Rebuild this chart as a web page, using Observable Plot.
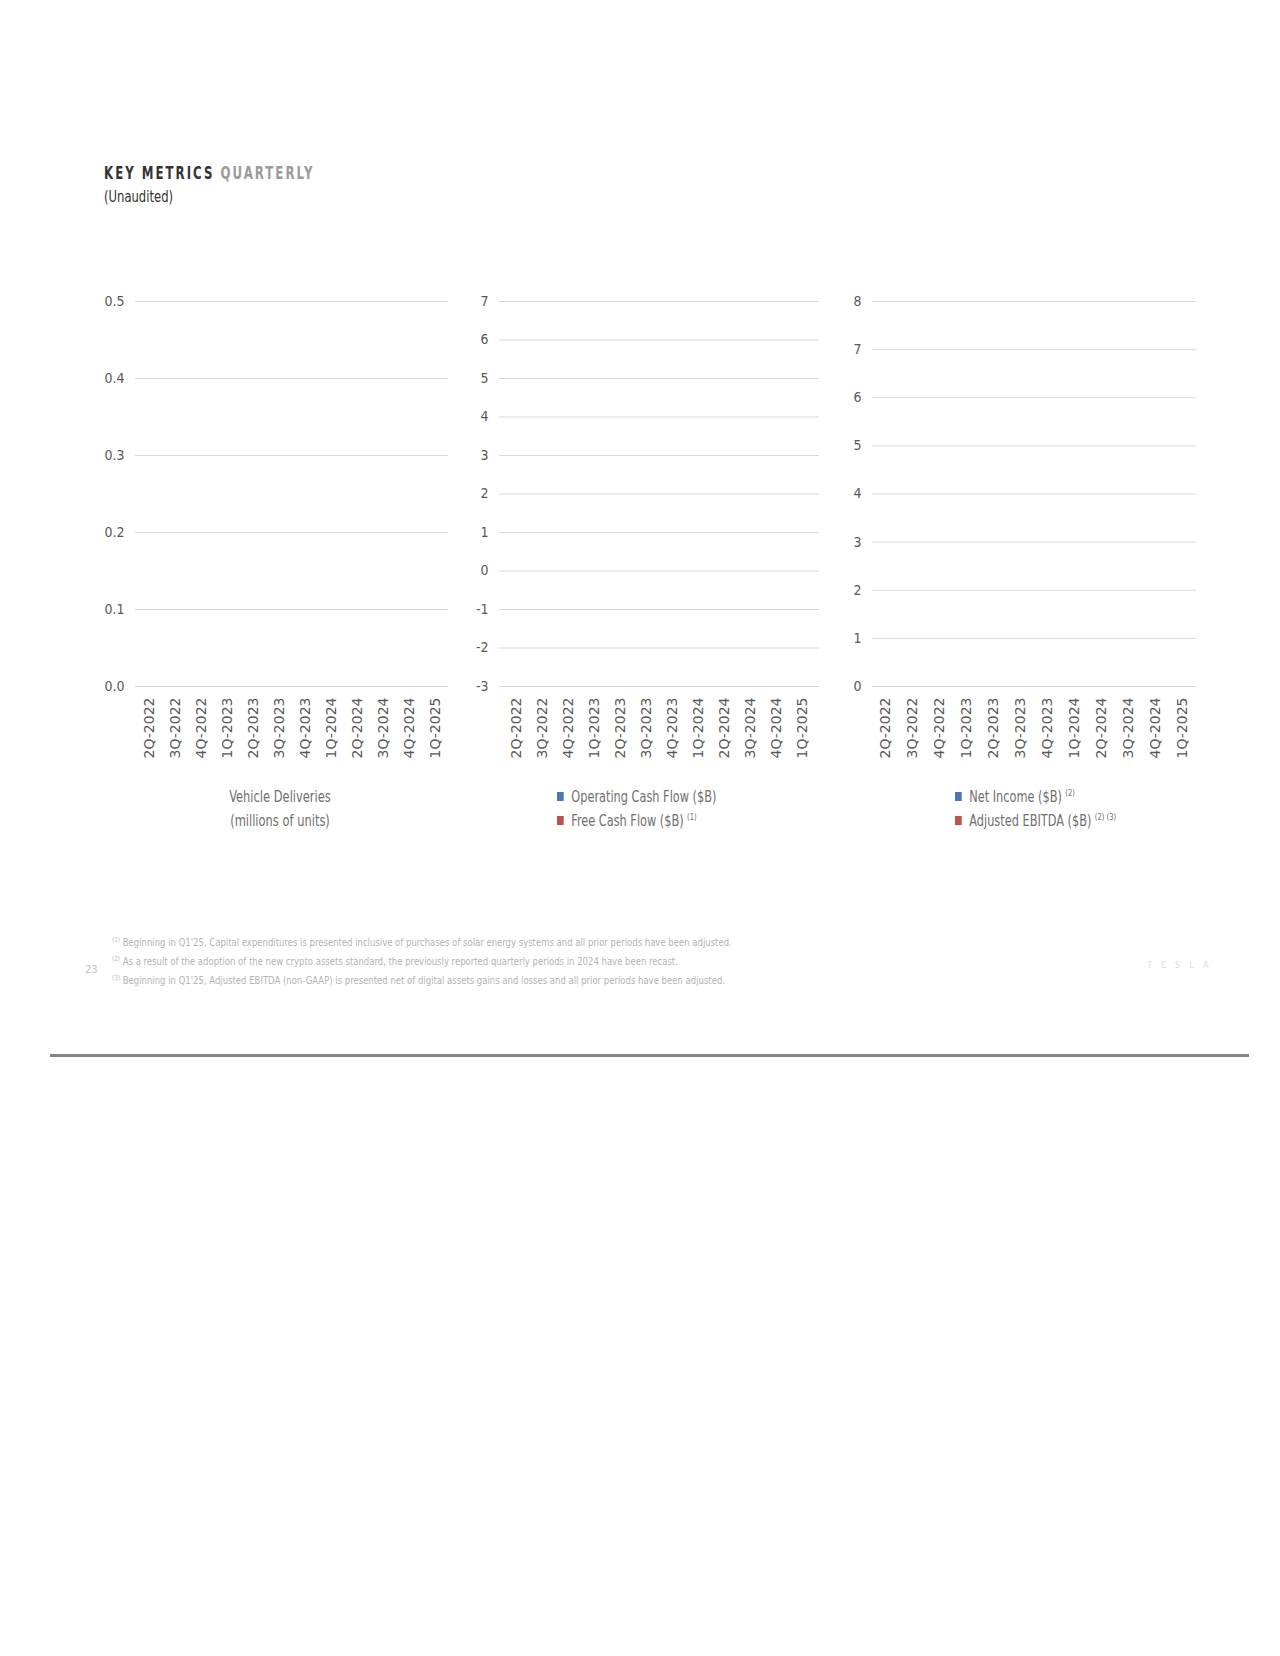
<!DOCTYPE html>
<html>
<head>
<meta charset="utf-8">
<script src="https://cdn.jsdelivr.net/npm/d3@7"></script>
<script src="https://cdn.jsdelivr.net/npm/@observablehq/plot@0.6"></script>
<style>
  html, body { margin: 0; padding: 0; background: #fff; }
  #page { position: relative; width: 1280px; height: 1656px; background: #fff; overflow: hidden;
          font-family: "Liberation Sans Narrow", "DejaVu Sans Condensed", "Open Sans", sans-serif; }
  .abs { position: absolute; white-space: nowrap; }
  .title { left: 104px; top: 163px; font-size: 17px; font-weight: bold; letter-spacing: 2.6px; color: #333;
           transform: scaleX(0.77); transform-origin: left center; }
  .title .q { color: #9a9a9a; }
  .sub { left: 104px; top: 188px; font-size: 15px; color: #333; transform: scaleX(0.86); transform-origin: left center; }
  .leg { font-size: 15px; color: #707070; line-height: 24px; }
  .legc { transform: scaleX(0.85); transform-origin: center top; }
  .legl { transform: scaleX(0.84); transform-origin: left top; }
  .sq { display: inline-block; width: 8px; height: 9px; margin-right: 9px; vertical-align: 1px; }
  .sup { font-size: 9px; position: relative; top: -6px; margin-left: 4px; line-height: 0; }
  .foot { font-size: 10.5px; color: #b3b3b3; transform: scaleX(0.9); transform-origin: left top; }
  .foot sup { font-size: 7px; line-height: 0; }
  .chart { position: absolute; }
  .chart svg { overflow: visible; }
</style>
</head>
<body>
<div id="page">
  <div class="abs title">KEY METRICS <span class="q">QUARTERLY</span></div>
  <div class="abs sub">(Unaudited)</div>

  <div id="c1" class="chart" style="left:85px; top:281px;"></div>
  <div id="c2" class="chart" style="left:449px; top:281px;"></div>
  <div id="c3" class="chart" style="left:822px; top:281px;"></div>

  <div id="leg1" class="abs leg legc" style="left:170px; width:220px; top:785px; text-align:center;"></div>
  <div id="leg2" class="abs leg legl" style="left:557px; top:785px;"></div>
  <div id="leg3" class="abs leg legl" style="left:955px; top:785px;"></div>

  <div class="abs" style="left:85px; top:963px; font-size:11px; color:#c0c0c0;">23</div>
  <div id="foot" class="abs foot" style="left:112px; top:933px; line-height:19px;"></div>
  <div class="abs" style="left:1147px; top:960px; font-size:9px; letter-spacing:9px; color:#dedede;">TESLA</div>
  <div class="abs" style="left:50px; top:1054px; width:1199px; height:3px; background:#848484;"></div>
</div>
<script>
// ---- data ----
const quarters = ["2Q-2022","3Q-2022","4Q-2022","1Q-2023","2Q-2023","3Q-2023","4Q-2023","1Q-2024","2Q-2024","3Q-2024","4Q-2024","1Q-2025"];
const deliveriesTicks = [0.0, 0.1, 0.2, 0.3, 0.4, 0.5];
const cashFlowTicks = [-3, -2, -1, 0, 1, 2, 3, 4, 5, 6, 7];
const incomeTicks = [0, 1, 2, 3, 4, 5, 6, 7, 8];
const legend1Lines = ["Vehicle Deliveries", "(millions of units)"];
const legend2Series = [["Operating Cash Flow ($B)", ""], ["Free Cash Flow ($B)", "(1)"]];
const legend3Series = [["Net Income ($B)", "(2)"], ["Adjusted EBITDA ($B)", "(2) (3)"]];
const seriesColors = ["#4a76b8", "#c0504d"];
const footnotes = [
  ["(1)", "Beginning in Q1'25, Capital expenditures is presented inclusive of purchases of solar energy systems and all prior periods have been adjusted."],
  ["(2)", "As a result of the adoption of the new crypto assets standard, the previously reported quarterly periods in 2024 have been recast."],
  ["(3)", "Beginning in Q1'25, Adjusted EBITDA (non-GAAP) is presented net of digital assets gains and losses and all prior periods have been adjusted."]
];

const narrow = '"Liberation Sans Narrow", "DejaVu Sans Condensed", "Open Sans", sans-serif';

function makeChart(el, ticks, fmt, width) {
  const chart = Plot.plot({
    width: width,
    height: 495,
    marginLeft: 50,
    marginRight: 0,
    marginTop: 20,
    marginBottom: 90,
    style: { background: "transparent", overflow: "visible" },
    x: { type: "band", domain: quarters, padding: 0, label: null },
    y: { domain: [ticks[0], ticks[ticks.length - 1]], label: null },
    marks: [
      Plot.ruleY(ticks, { stroke: "#d9d9d9", strokeWidth: 1 }),
      Plot.axisY({ ticks: ticks, tickSize: 0, tickPadding: 11, tickFormat: fmt,
                   fontSize: 14, fill: "#595959", label: null }),
      Plot.axisX({ tickSize: 0, tickRotate: -90, tickPadding: 11, fontSize: 14,
                   fill: "#595959", label: null })
    ]
  });
  d3.select(chart).selectAll('g[aria-label="y-axis tick label"]').attr("font-family", narrow);
  d3.select(chart).selectAll('g[aria-label="x-axis tick label"]').attr("font-family", '"DejaVu Sans", Verdana, sans-serif');
  document.getElementById(el).appendChild(chart);
}
makeChart("c1", deliveriesTicks, d3.format(".1f"), 363);
makeChart("c2", cashFlowTicks, d => String(d), 370);
makeChart("c3", incomeTicks, d => String(d), 374);

document.getElementById("leg1").innerHTML = legend1Lines.join("<br>");
function legend(el, series) {
  document.getElementById(el).innerHTML = series.map((s, i) =>
    `<div><span class="sq" style="background:${seriesColors[i]}"></span>${s[0]}${s[1] ? `<span class="sup">${s[1]}</span>` : ""}</div>`
  ).join("");
}
legend("leg2", legend2Series);
legend("leg3", legend3Series);
document.getElementById("foot").innerHTML = footnotes.map(f => `<div><sup>${f[0]}</sup> ${f[1]}</div>`).join("");
</script>
</body>
</html>
